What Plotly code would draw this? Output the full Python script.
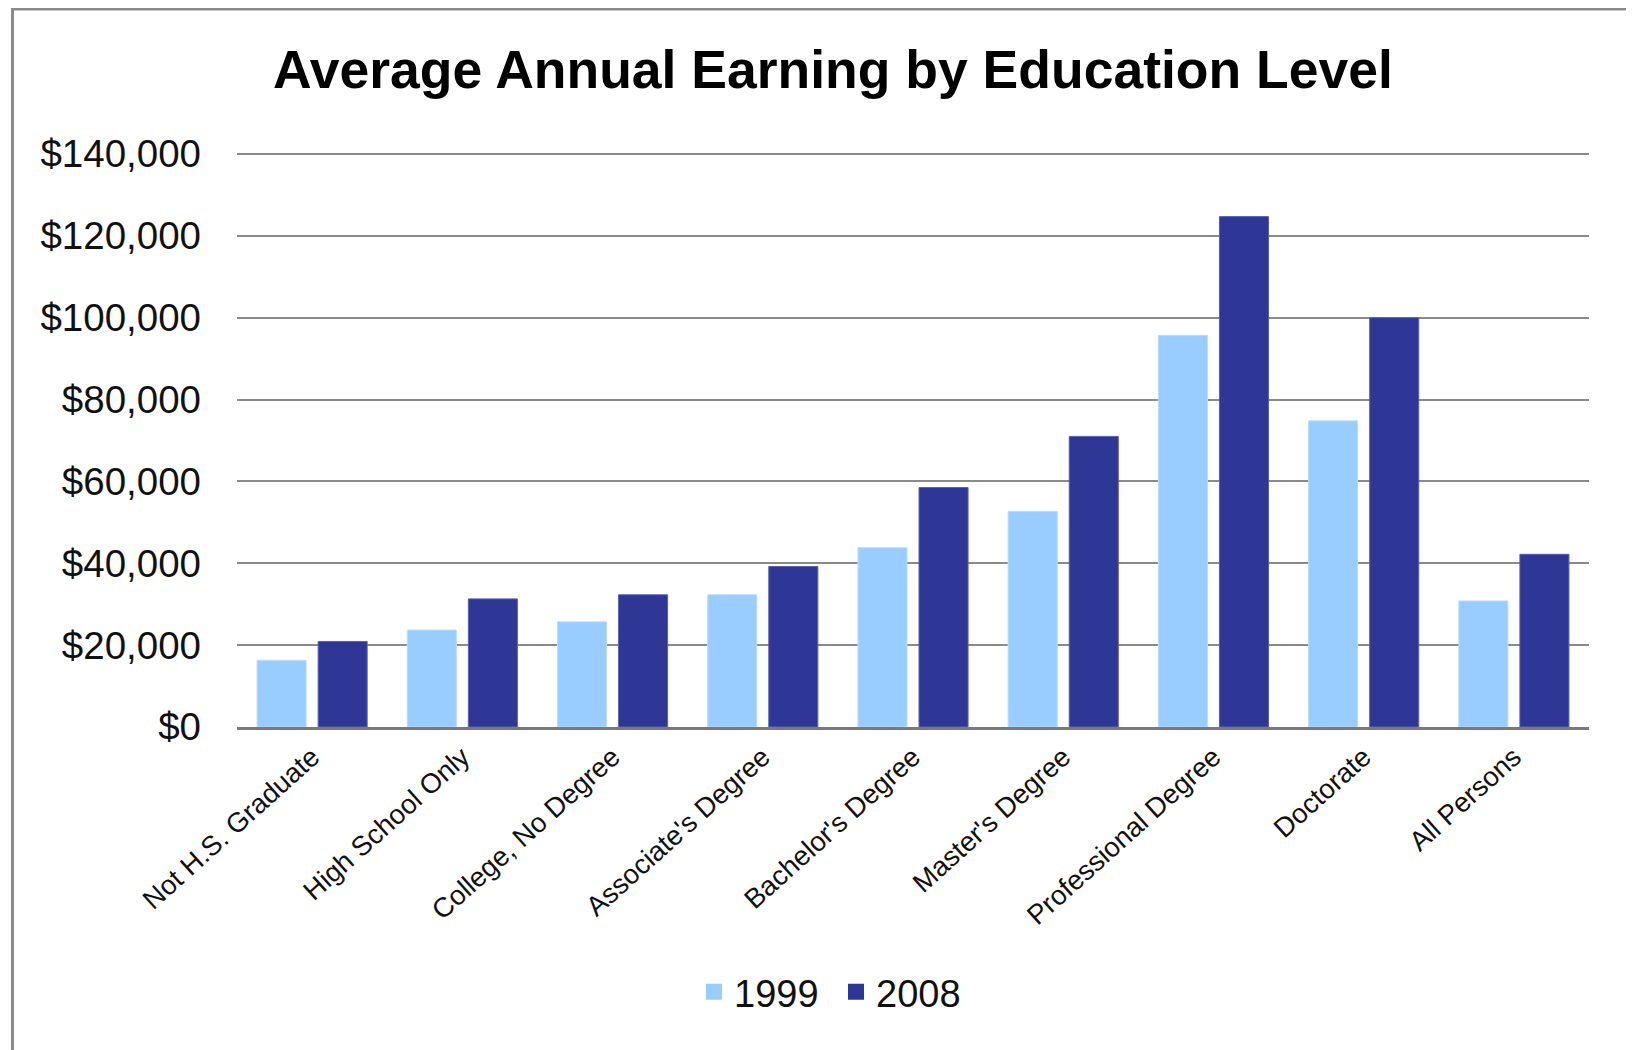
import plotly.graph_objects as go

categories = ["Not H.S. Graduate", "High School Only", "College, No Degree",
              "Associate's Degree", "Bachelor's Degree", "Master's Degree",
              "Professional Degree", "Doctorate", "All Persons"]
earn_1999 = [16300, 23700, 25700, 32300, 43800, 52700, 95700, 74800, 30800]
earn_2008 = [20900, 31300, 32300, 39200, 58500, 71000, 124700, 100000, 42200]
series_names = ["1999", "2008"]
series_colors = ["#99CCFF", "#2E3696"]
y_tickvals = [0, 20000, 40000, 60000, 80000, 100000, 120000, 140000]
y_ticktext = ["$0", "$20,000", "$40,000", "$60,000", "$80,000",
              "$100,000", "$120,000", "$140,000"]

# page body has an 8px margin, so the figure is drawn 8px in from the top-left
W, H = 1626, 1042
L, R, T, B = 229, 45, 144, 323
pw, ph = W - L - R, H - T - B
y_top = 140000 * ph / (ph - 2)

fig = go.Figure()
for name, vals, col, edge in [(series_names[0], earn_1999, series_colors[0], "#B9DDFF"),
                              (series_names[1], earn_2008, series_colors[1], "#5860B0")]:
    fig.add_trace(go.Bar(x=categories, y=vals, name=name, showlegend=False,
                         marker=dict(color=col, line=dict(color=edge, width=1))))
# legend swatches (square markers)
for name, col in zip(series_names, series_colors):
    fig.add_trace(go.Scatter(x=[None], y=[None], mode="markers", name=name,
                             marker=dict(symbol="square", size=16, color=col),
                             showlegend=True, hoverinfo="skip"))

def px_to_paper_x(x):
    return (x - L) / pw

def px_to_paper_y(y):
    return (H - B - y) / ph

fig.update_layout(
    width=W, height=H,
    margin=dict(l=L, r=R, t=T, b=B, autoexpand=False),
    paper_bgcolor="white", plot_bgcolor="white",
    font=dict(family="Liberation Sans, Arial, sans-serif", color="#111111"),
    title=dict(text="<b>Average Annual Earning by Education Level</b>",
               x=825 / W, xref="container", xanchor="center",
               y=1 - 61 / H, yref="container", yanchor="middle",
               font=dict(size=53.5, color="#000000")),
    barmode="group", bargap=0.187, bargroupgap=0.197,
    showlegend=True,
    legend=dict(orientation="h", x=686 / W, xref="container", xanchor="left",
                y=1 - 984 / H, yref="container", yanchor="middle",
                font=dict(size=38, color="#111111"), traceorder="normal",
                itemwidth=30, itemsizing="trace",
                entrywidth=97, entrywidthmode="pixels"),
    xaxis=dict(tickangle=-42, tickfont=dict(size=27.5, color="#111111"),
               showline=True, linecolor="#7A7A7A", linewidth=3,
               ticks="", automargin=False, type="category"),
    yaxis=dict(range=[0, y_top], tickmode="array", tickvals=y_tickvals,
               ticktext=y_ticktext, tickfont=dict(size=38.5, color="#111111"),
               showgrid=True, gridcolor="#8A8A8A", gridwidth=2,
               zeroline=False, showline=False, ticks="",
               ticklabelstandoff=35, automargin=False),
    shapes=[
        dict(type="line", xref="paper", yref="paper",
             x0=px_to_paper_x(4.5), x1=px_to_paper_x(4.5),
             y0=px_to_paper_y(-1), y1=px_to_paper_y(H + 5),
             line=dict(color="#8A8A8A", width=3)),
        dict(type="line", xref="paper", yref="paper",
             x0=px_to_paper_x(3), x1=px_to_paper_x(W + 5),
             y0=px_to_paper_y(1), y1=px_to_paper_y(1),
             line=dict(color="#8A8A8A", width=3)),
    ],
)

fig.write_html("out.html")
